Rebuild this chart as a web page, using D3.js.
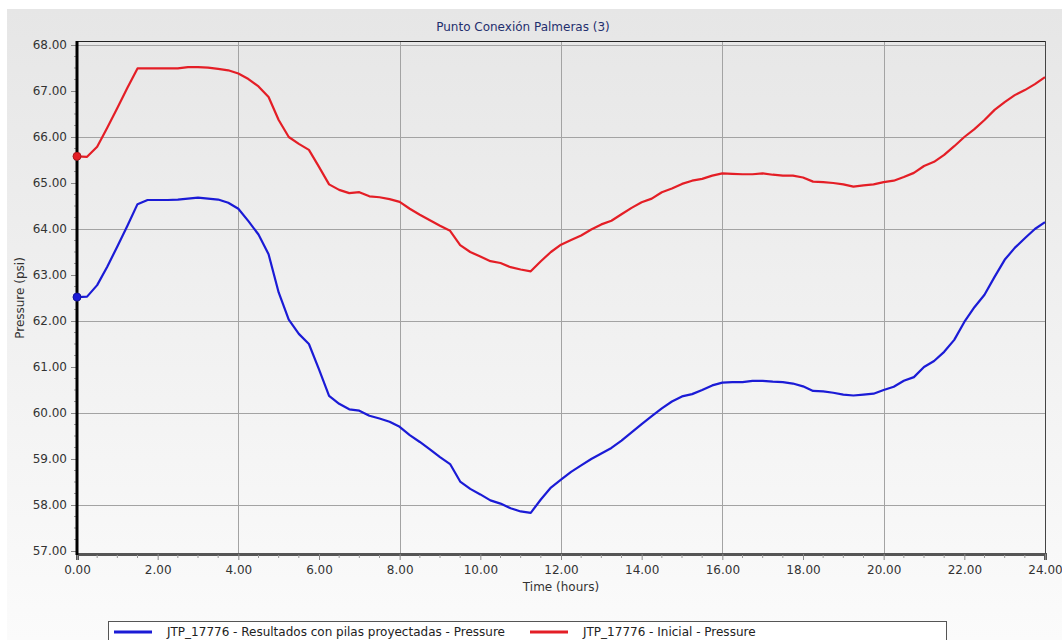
<!DOCTYPE html>
<html>
<head>
<meta charset="utf-8">
<script src="https://cdn.jsdelivr.net/npm/d3@7"></script>
<style>
  html, body { margin: 0; padding: 0; background: #ffffff; }
  svg { display: block; font-family: "DejaVu Sans", Verdana, sans-serif; }
</style>
</head>
<body>
<svg id="chart" width="1062" height="640"></svg>
<script>
// Simulated pressure at junction JTP_17776, one value every 15 minutes (0–24 h)
const timeHours = d3.range(0, 24.001, 0.25);

const pressureProyectadas = [
  62.52, 62.53, 62.78, 63.18, 63.62, 64.07, 64.54, 64.63, 64.63, 64.63, 64.64, 64.66,
  64.68, 64.66, 64.64, 64.57, 64.44, 64.17, 63.88, 63.45, 62.62, 62.03, 61.72, 61.50,
  60.95, 60.37, 60.20, 60.08, 60.05, 59.94, 59.88, 59.81, 59.70, 59.52, 59.37, 59.21,
  59.04, 58.89, 58.51, 58.35, 58.23, 58.10, 58.03, 57.93, 57.86, 57.83, 58.12, 58.38,
  58.55, 58.72, 58.86, 59.00, 59.12, 59.24, 59.40, 59.58, 59.76, 59.93, 60.10, 60.25,
  60.36, 60.41, 60.50, 60.60, 60.66, 60.67, 60.67, 60.70, 60.70, 60.68, 60.67, 60.64,
  60.58, 60.48, 60.47, 60.44, 60.40, 60.38, 60.40, 60.42, 60.50, 60.57, 60.70, 60.78,
  61.00, 61.13, 61.33, 61.59, 61.98, 62.30, 62.57, 62.96, 63.33, 63.59, 63.80, 64.00,
  64.15
];

const pressureInicial = [
  65.58, 65.57, 65.79, 66.20, 66.63, 67.07, 67.49, 67.49, 67.49, 67.49, 67.49, 67.52,
  67.52, 67.51, 67.48, 67.45, 67.38, 67.26, 67.10, 66.87, 66.37, 66.00, 65.85, 65.72,
  65.35, 64.97, 64.85, 64.78, 64.80, 64.71, 64.69, 64.65, 64.59, 64.44, 64.31, 64.19,
  64.07, 63.96, 63.65, 63.50, 63.40, 63.30, 63.26, 63.17, 63.12, 63.08, 63.30, 63.50,
  63.66, 63.76, 63.86, 63.99, 64.10, 64.18, 64.32, 64.46, 64.58, 64.66, 64.80, 64.88,
  64.98, 65.05, 65.09, 65.16, 65.21, 65.20, 65.19, 65.19, 65.21, 65.18, 65.16, 65.16,
  65.12, 65.03, 65.02, 65.00, 64.97, 64.92, 64.95, 64.97, 65.02, 65.05, 65.13, 65.22,
  65.37, 65.46, 65.61, 65.80, 66.00, 66.17, 66.37, 66.59, 66.76, 66.91, 67.02, 67.15,
  67.30
];

const xTickValues = d3.range(0, 24.001, 2);
const yTickValues = d3.range(57, 68.001, 1);
const xGridValues = [4, 8, 12, 16, 20];
const yGridValues = [58, 60, 62, 64, 66, 68];

const seriesNames = [
  "JTP_17776 - Resultados con pilas proyectadas - Pressure",
  "JTP_17776 - Inicial - Pressure"
];
const seriesColors = ["#1b1bd6", "#e41e26"];

const chartTitle = "Punto Conexión Palmeras (3)";
const xAxisTitle = "Time (hours)";
const yAxisTitle = "Pressure (psi)";

// ---- layout ----
const W = 1062, H = 640;
const plot = { left: 77, right: 1045, top: 41, bottom: 554 };
const FONT = "12px";

const svg = d3.select("#chart");

const defs = svg.append("defs");
const grad = defs.append("linearGradient")
  .attr("id", "panelGrad").attr("x1", 0).attr("y1", 0).attr("x2", 0).attr("y2", 1);
grad.append("stop").attr("offset", "0%").attr("stop-color", "#e6e6e6");
grad.append("stop").attr("offset", "100%").attr("stop-color", "#fbfbfb");

// chart panel
svg.append("rect")
  .attr("x", 7).attr("y", 9).attr("width", W - 7).attr("height", H - 9)
  .attr("fill", "url(#panelGrad)");

const x = d3.scaleLinear().domain([0, 24]).range([plot.left, plot.right]);
const y = d3.scaleLinear().domain([57, 68]).range([551, 45]);

// grid
const grid = svg.append("g").attr("stroke", "#a3a3a3").attr("stroke-width", 1);
grid.selectAll("line.v").data(xGridValues).join("line")
  .attr("x1", d => Math.round(x(d)) + 0.5).attr("x2", d => Math.round(x(d)) + 0.5)
  .attr("y1", plot.top).attr("y2", plot.bottom);
grid.selectAll("line.h").data(yGridValues).join("line")
  .attr("y1", d => Math.round(y(d)) + 0.5).attr("y2", d => Math.round(y(d)) + 0.5)
  .attr("x1", plot.left).attr("x2", plot.right);

// frame: thin top/right, heavy left/bottom axes
svg.append("line").attr("x1", plot.left).attr("x2", plot.right + 0.5)
  .attr("y1", plot.top + 0.5).attr("y2", plot.top + 0.5)
  .attr("stroke", "#222").attr("stroke-width", 1);
svg.append("line").attr("x1", plot.right + 0.5).attr("x2", plot.right + 0.5)
  .attr("y1", plot.top).attr("y2", plot.bottom)
  .attr("stroke", "#444").attr("stroke-width", 1);

// x axis
const xAxis = d3.axisBottom(x).tickValues(xTickValues)
  .tickFormat(d3.format(".2f")).tickSize(6).tickPadding(5);
const gx = svg.append("g").attr("transform", `translate(0,${plot.bottom})`).call(xAxis);
gx.select(".domain").attr("stroke", "#555").attr("stroke-width", 3);
gx.selectAll(".tick line").attr("stroke", "#888");
gx.selectAll(".tick text").attr("fill", "#333").style("font-size", FONT)
  .style("font-family", "DejaVu Sans, Verdana, sans-serif");
// minor x ticks every half hour
gx.append("g").selectAll("line")
  .data(d3.range(0, 24.001, 0.5).filter(d => d % 2 !== 0)).join("line")
  .attr("x1", d => x(d)).attr("x2", d => x(d)).attr("y1", 1).attr("y2", 4)
  .attr("stroke", "#999");

// y axis
const yAxis = d3.axisLeft(y).tickValues(yTickValues)
  .tickFormat(d3.format(".2f")).tickSize(6).tickPadding(4);
const gy = svg.append("g").attr("transform", `translate(${plot.left},0)`).call(yAxis);
gy.select(".domain").remove();
gy.selectAll(".tick line").attr("stroke", "#888");
gy.selectAll(".tick text").attr("fill", "#333").style("font-size", FONT)
  .style("font-family", "DejaVu Sans, Verdana, sans-serif");
// minor y ticks every quarter psi
gy.append("g").selectAll("line")
  .data(d3.range(57, 68.001, 0.25).filter(d => d % 1 !== 0)).join("line")
  .attr("y1", d => y(d)).attr("y2", d => y(d)).attr("x1", -3).attr("x2", 0)
  .attr("stroke", "#999");
svg.append("line").attr("x1", plot.left).attr("x2", plot.left)
  .attr("y1", plot.top).attr("y2", plot.bottom + 1)
  .attr("stroke", "#000").attr("stroke-width", 3);

// series lines
const line = d3.line().x((d, i) => x(timeHours[i])).y(d => y(d));
const seriesValues = [pressureProyectadas, pressureInicial];
svg.append("g").selectAll("path").data(seriesValues).join("path")
  .attr("d", d => line(d))
  .attr("fill", "none")
  .attr("stroke", (d, i) => seriesColors[i])
  .attr("stroke-width", 2.2)
  .attr("stroke-linejoin", "round");

// starting-point markers
svg.append("g").selectAll("circle").data(seriesValues).join("circle")
  .attr("cx", x(timeHours[0])).attr("cy", d => y(d[0])).attr("r", 4)
  .attr("fill", (d, i) => seriesColors[i])
  .attr("stroke", (d, i) => d3.color(seriesColors[i]).darker(0.8))
  .attr("stroke-width", 1);

// titles
svg.append("text").attr("x", 523).attr("y", 31).attr("text-anchor", "middle")
  .attr("fill", "#1f2f6e").style("font-size", FONT).text(chartTitle);
svg.append("text").attr("x", 561).attr("y", 591).attr("text-anchor", "middle")
  .attr("fill", "#333").style("font-size", FONT).text(xAxisTitle);
svg.append("text").attr("transform", "translate(24,298) rotate(-90)")
  .attr("text-anchor", "middle").attr("fill", "#333").style("font-size", FONT)
  .text(yAxisTitle);

// legend
const legend = svg.append("g");
legend.append("rect").attr("x", 108.5).attr("y", 621.5).attr("width", 838).attr("height", 30)
  .attr("fill", "#ffffff").attr("stroke", "#555").attr("stroke-width", 1);
const legendX = [114, 530];
seriesNames.forEach((name, i) => {
  legend.append("line").attr("x1", legendX[i]).attr("x2", legendX[i] + 38)
    .attr("y1", 632).attr("y2", 632)
    .attr("stroke", seriesColors[i]).attr("stroke-width", 3);
  legend.append("text").attr("x", legendX[i] + 53).attr("y", 636)
    .attr("fill", "#222").style("font-size", FONT).text(name);
});
</script>
</body>
</html>
